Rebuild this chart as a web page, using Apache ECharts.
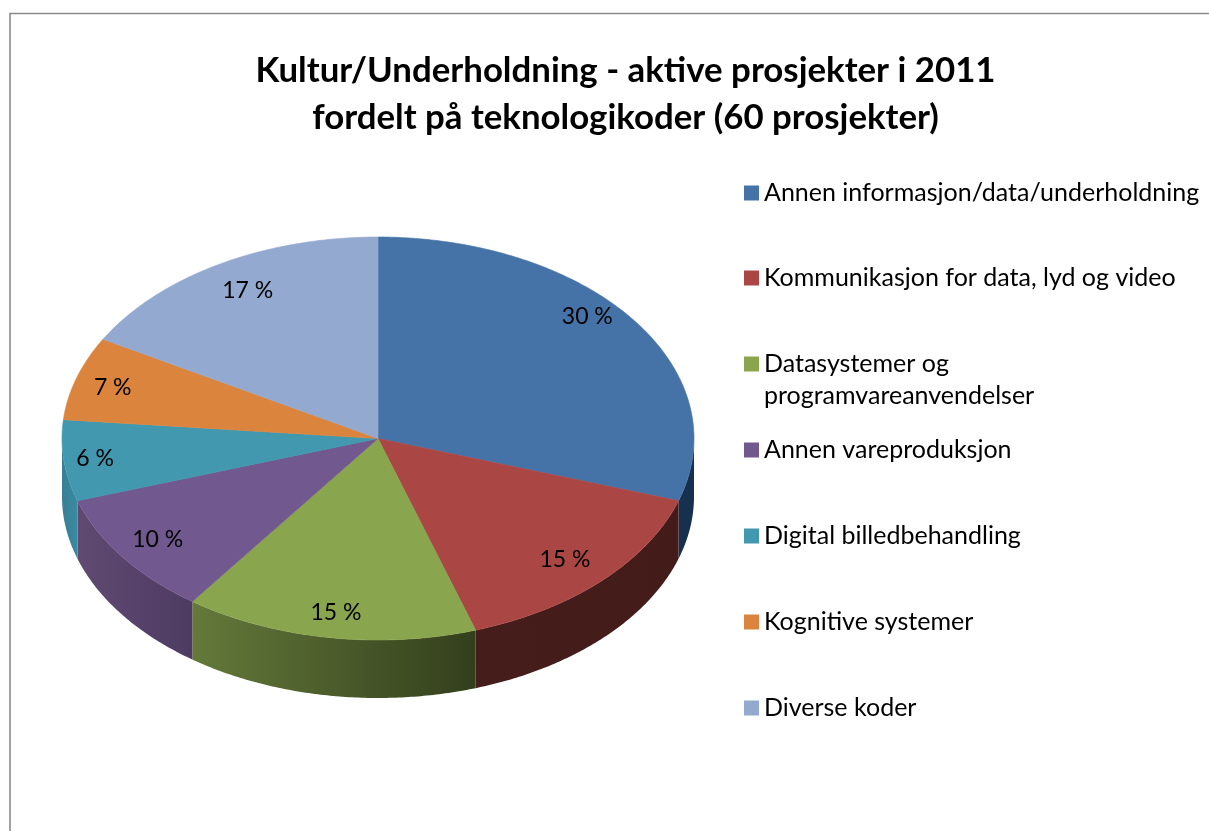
<!DOCTYPE html>
<html><head><meta charset="utf-8">
<style>html,body{margin:0;padding:0;background:#fff}#c{width:1209px;height:831px}</style>
<script src="https://cdn.jsdelivr.net/npm/echarts@6/dist/echarts.min.js"></script>
</head><body><div id="c"></div>
<script>
const categories = ['Annen informasjon/data/underholdning','Kommunikasjon for data, lyd og video','Datasystemer og\nprogramvareanvendelser','Annen vareproduksjon','Digital billedbehandling','Kognitive systemer','Diverse koder'];
const shares = [30, 15, 15, 10, 6.49, 6.7, 16.81];
const titleLines = ['Kultur/Underholdning - aktive prosjekter i 2011','fordelt på teknologikoder (60 prosjekter)'];
const topColors = ['#4673A7','#AA4644','#89A54E','#71588F','#4198AF','#DB843D','#93A9CF'];
const wallColors = [['#17304F','#17304F'],['#451D1A','#431C19'],['#64793A','#333F1C'],['#5F4A72','#4E3B62'],['#387F95','#3A8BA2'],['#A0602A','#A0602A'],['#6B7C98','#6B7C98']];
const labelNudge = [[-8,-21],[-3,0],[0,5],[-3,0],[-16,1],[-9,0],[5,0]];
const FONT = 'Lato, Carlito, sans-serif';
const pie = {cx:378, cy:438.5, rx:316, ry:201.5, depth:58, labelR:0.85};
const total = shares.reduce((a,b)=>a+b,0);
const pt = (t,dy=0)=>[pie.cx+pie.rx*Math.sin(t), pie.cy-pie.ry*Math.cos(t)+dy];
function arc(a,b,dy){const n=Math.max(2,Math.ceil((b-a)/0.01));const o=[];for(let i=0;i<=n;i++)o.push(pt(a+(b-a)*i/n,dy));return o;}
function makeItem(idx){
  return function(params){
    const before = shares.slice(0,idx).reduce((a,b)=>a+b,0);
    const a = before/total*2*Math.PI, b=(before+shares[idx])/total*2*Math.PI;
    const children=[];
    const wa=Math.max(a,Math.PI/2), wb=Math.min(b,Math.PI*1.5);
    if(wb>wa){
      const wall=arc(wa,wb,0).concat(arc(wa,wb,pie.depth).reverse());
      const c=wallColors[idx];
      children.push({type:'polygon',shape:{points:wall},style:{fill:{type:'linear',x:0,y:0,x2:1,y2:0,colorStops:[{offset:0,color:c[0]},{offset:1,color:c[1]}]},stroke:null}});
    }
    const top=[[pie.cx,pie.cy]].concat(arc(a,b,0));
    children.push({type:'polygon',shape:{points:top},style:{fill:topColors[idx],stroke:topColors[idx],lineWidth:0.6}});
    const m=(a+b)/2, n=labelNudge[idx];
    children.push({type:'text',x:pie.cx+pie.labelR*pie.rx*Math.sin(m)+n[0],y:pie.cy-pie.labelR*pie.ry*Math.cos(m)+n[1],
      style:{text:Math.round(shares[idx])+' %',font:'23px '+FONT,fill:'#000',align:'center',verticalAlign:'middle'}});
    return {type:'group',children};
  };
}
const legendCentres=[193,278,364,450,536,622,708];
const chart=echarts.init(document.getElementById('c'),null,{renderer:'canvas'});
chart.setOption({
  animation:false,
  backgroundColor:'#fff',
  color:topColors,
  title:{text:titleLines.join('\n'),left:625.5,top:47,padding:0,textAlign:'center',
    textStyle:{fontFamily:FONT,fontWeight:'bold',fontSize:34.8,lineHeight:47,color:'#000'}},
  legend:categories.map((c,i)=>({
    data:[c],orient:'vertical',left:744,padding:0,top:legendCentres[i]-(i===2?48:16),itemWidth:15,itemHeight:15,icon:'rect',selectedMode:false,
    formatter:(n)=>i===2?' \n'+n:n,
    textStyle:{fontFamily:FONT,fontSize:25,lineHeight:32,color:'#000',textShadowColor:'transparent'}
  })),
  graphic:[{type:'polyline',silent:true,z:-1,shape:{points:[[10,831],[10,13.5],[1209,13.5]]},style:{stroke:'#8a8a8a',lineWidth:1.6,fill:null}}],
  series:categories.map((c,i)=>({type:'custom',name:c,coordinateSystem:'none',itemStyle:{color:topColors[i]},renderItem:makeItem(i),data:[shares[i]]}))
});
</script></body></html>
